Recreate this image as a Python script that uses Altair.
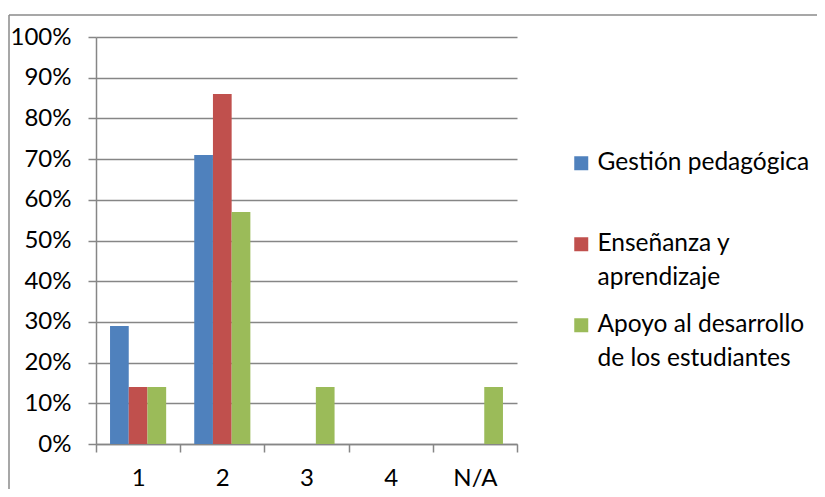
import altair as alt
import pandas as pd

categories = ["1", "2", "3", "4", "N/A"]
series = ["Gestión pedagógica", "Enseñanza y aprendizaje", "Apoyo al desarrollo de los estudiantes"]
gestion = [0.29, 0.71, 0.0, 0.0, 0.0]
ensenanza = [0.14, 0.86, 0.0, 0.0, 0.0]
apoyo = [0.14, 0.57, 0.14, 0.0, 0.14]
colors = ["#4F81BD", "#C0504D", "#9BBB59"]
y_ticks = [0, 0.1, 0.2, 0.3, 0.4, 0.5, 0.6, 0.7, 0.8, 0.9, 1.0]

rows = []
for s, vals in zip(series, [gestion, ensenanza, apoyo]):
    for c, v in zip(categories, vals):
        rows.append({"cat": c, "series": s, "value": v})
df = pd.DataFrame(rows)

FONT = "Lato"
GRID = "#868686"
BORDER = "#8a8a8a"

label_expr = (
    "datum.label == 'Enseñanza y aprendizaje' ? ['Enseñanza y', 'aprendizaje'] : "
    "datum.label == 'Apoyo al desarrollo de los estudiantes' ? ['Apoyo al desarrollo', 'de los estudiantes'] : "
    "datum.label"
)

bars = alt.Chart(df).mark_bar().encode(
    x=alt.X(
        "cat:N",
        sort=categories,
        scale=alt.Scale(paddingInner=0, paddingOuter=0),
        axis=alt.Axis(
            title=None, labelAngle=0, tickBand="extent", grid=False,
            tickSize=8, labelPadding=14, labelBaseline="top",
        ),
    ),
    xOffset=alt.XOffset("series:N", sort=series, scale=alt.Scale(paddingInner=0, paddingOuter=0.75)),
    y=alt.Y(
        "value:Q",
        scale=alt.Scale(domain=[0, 1]),
        axis=alt.Axis(
            title=None, format="%", values=y_ticks, grid=True,
            tickSize=8, labelPadding=17,
        ),
    ),
    color=alt.Color(
        "series:N",
        sort=series,
        scale=alt.Scale(domain=series, range=colors),
        legend=alt.Legend(
            title=None,
            orient="none",
            legendX=473,
            legendY=114,
            symbolType="square",
            symbolSize=196,
            symbolStrokeWidth=0,
            labelOffset=4,
            labelLimit=400,
            labelExpr=label_expr,
            labelBaseline="middle",
            gridAlign="all",
            rowPadding=22,
        ),
    ),
)

frame = pd.DataFrame({"k": [0]})
border_top = alt.Chart(frame).mark_rule(color=BORDER, strokeWidth=1.5).encode(
    x=alt.value(-87), x2=alt.value(760), y=alt.value(-22)
)
border_left = alt.Chart(frame).mark_rule(color=BORDER, strokeWidth=1.5).encode(
    x=alt.value(-87), y=alt.value(-22), y2=alt.value(500)
)

chart = alt.layer(border_top, border_left, bars).properties(
    width=421,
    height=407,
    autosize=alt.AutoSizeParams(type="none"),
    padding={"left": 88, "top": 29, "right": 300, "bottom": 45},
).configure(
    style={"guide-label": {"lineHeight": 34}}
).configure_view(
    stroke=None
).configure_axis(
    labelFont=FONT, labelFontSize=24, labelColor="#000000",
    domainColor=GRID, domainWidth=1.5, tickColor=GRID, tickWidth=1.5,
    gridColor=GRID, gridWidth=1.5,
).configure_legend(
    labelFont=FONT, labelFontSize=24.5, labelColor="#000000",
)

chart.save("out.html", embed_options={"renderer": "svg", "actions": False})
